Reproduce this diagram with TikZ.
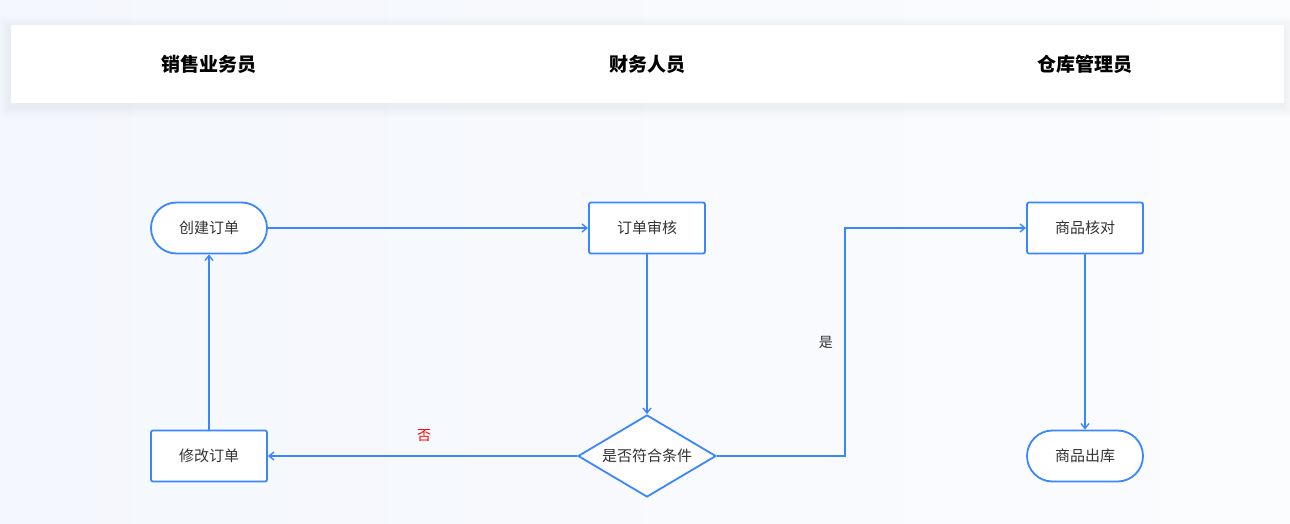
\documentclass[tikz,border=0pt]{standalone}
\usepackage{fontspec}
\setmainfont{Noto Sans CJK SC}
\usetikzlibrary{arrows.meta,shapes.geometric}
\definecolor{flowblue}{HTML}{3A86FF}
\definecolor{txtgrey}{HTML}{333333}
\definecolor{bgA}{HTML}{F4F7FD}
\definecolor{bgB}{HTML}{FBFCFE}
\definecolor{shadowc}{HTML}{8090B0}
\begin{document}
\begin{tikzpicture}[x=1pt,y=-1pt,
  box/.style={draw=flowblue,line width=1.8pt,fill=white,rounded corners=2pt,
    minimum width=116pt,minimum height=51pt,inner sep=0pt,
    font=\fontsize{15}{18}\selectfont,text=txtgrey},
  term/.style={box,rounded corners=25.5pt},
  decision/.style={draw=flowblue,line width=1.8pt,fill=white,diamond,aspect=1.68,
    minimum width=138pt,minimum height=82pt,inner sep=0pt,
    font=\fontsize{15}{18}\selectfont,text=txtgrey},
  flow/.style={draw=flowblue,line width=1.8pt,-{Straight Barb[length=5pt,width=8pt,line width=1.4pt]}},
  head/.style={font=\fontsize{19}{22}\selectfont\bfseries,text=black},
  lbl/.style={font=\fontsize{14}{17}\selectfont}
]
\useasboundingbox (0,0) rectangle (1290,524);
\shade[left color=bgA,right color=bgB] (0,0) rectangle (1290,524);
\foreach \i in {1,...,12}{
  \fill[shadowc,opacity=0.006] (11-\i,25-\i+3) rectangle (1284+\i,103+\i+3);
}
\fill[white] (11,25) rectangle (1284,103);
\node[head] (h1) at (209,64) {销售业务员};
\node[head] (h2) at (647,64) {财务人员};
\node[head] (h3) at (1085,64) {仓库管理员};

\node[term] (create) at (209,228) {创建订单};
\node[box] (audit) at (647,228) {订单审核};
\node[box] (check) at (1085,228) {商品核对};
\node[box] (modify) at (209,456) {修改订单};
\node[decision] (cond) at (647,456) {是否符合条件};
\node[term] (out) at (1085,456) {商品出库};

\coordinate (turn1) at (845,456);
\coordinate (turn2) at (845,228);

\draw[flow] (create) -- (audit);
\draw[flow] (audit) -- (cond);
\draw[flow] (cond) -- node[lbl,text=red,above=10pt,pos=0.495] (no) {否} (modify);
\draw[flow] (cond.east) -- (turn1) -- node[lbl,text=txtgrey,left=8pt,pos=0.5] (yes) {是} (turn2) -- (check);
\draw[flow] (modify) -- (create);
\draw[flow] (check) -- (out);
\end{tikzpicture}
\end{document}
